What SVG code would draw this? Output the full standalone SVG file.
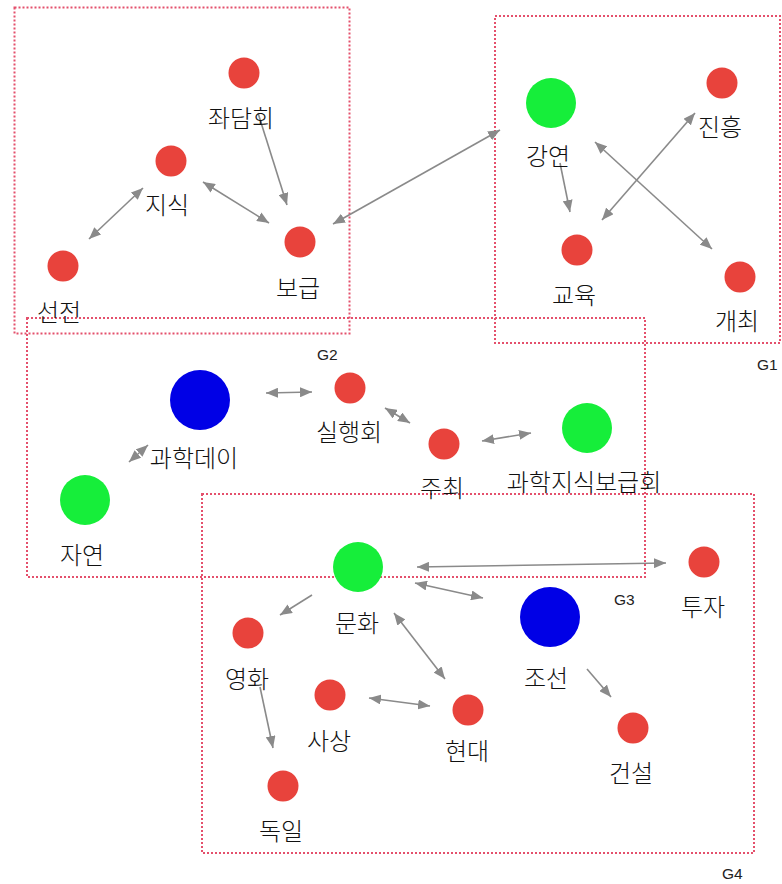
<svg xmlns="http://www.w3.org/2000/svg" width="782" height="884" viewBox="0 0 782 884">
<style>
.box{fill:none;stroke:#e4506c;stroke-width:2;stroke-dasharray:2 2}
.gl{font-family:"Liberation Sans",Arial,sans-serif;font-size:15.5px;fill:#222}
.e{stroke:#8a8a8a;stroke-width:1.6;fill:none}
.s{marker-end:url(#ah)}
.d{marker-start:url(#ah);marker-end:url(#ah)}
.r{fill:#e8433c}
.g{fill:#16ee3a}
.b{fill:#0000e6}
.t{font-family:"Noto Sans CJK KR","Noto Sans CJK SC",sans-serif;font-size:24px;font-weight:300;fill:#111;text-anchor:middle}
</style>
<defs>
<marker id="ah" viewBox="0 0 12 10" refX="12" refY="5" markerWidth="12" markerHeight="10" markerUnits="userSpaceOnUse" orient="auto-start-reverse">
<path d="M0,0 L12,5 L0,10 Z" fill="#8a8a8a"/>
</marker>
</defs>
<rect width="782" height="884" fill="#fff"/>
<g id="groups">
<g id="G2"><rect class="box" x="14.5" y="7.5" width="335" height="326"/><text class="gl" x="317" y="360">G2</text></g>
<g id="G1"><rect class="box" x="495" y="16" width="285" height="327"/><text class="gl" x="757" y="370">G1</text></g>
<g id="G3"><rect class="box" x="27" y="318" width="618" height="259"/><text class="gl" x="614" y="605">G3</text></g>
<g id="G4"><rect class="box" x="202" y="494" width="552" height="359"/><text class="gl" x="722" y="879">G4</text></g>
</g>
<g id="connectors">
<line class="e s" x1="258" y1="113" x2="287" y2="205"/>
<line class="e d" x1="143" y1="188" x2="89" y2="239"/>
<line class="e d" x1="203" y1="182" x2="269" y2="223"/>
<line class="e d" x1="333" y1="224" x2="500" y2="130"/>
<line class="e s" x1="560" y1="163" x2="570" y2="212"/>
<line class="e d" x1="695" y1="113" x2="602" y2="220"/>
<line class="e d" x1="595" y1="142" x2="712" y2="249"/>
<line class="e d" x1="266" y1="393" x2="312" y2="392"/>
<line class="e d" x1="385" y1="408" x2="410" y2="423"/>
<line class="e d" x1="148" y1="445" x2="129" y2="462"/>
<line class="e d" x1="482" y1="441" x2="531" y2="433"/>
<line class="e d" x1="417" y1="567" x2="666" y2="563"/>
<line class="e d" x1="415" y1="583" x2="483" y2="598"/>
<line class="e s" x1="312" y1="595" x2="280" y2="615"/>
<line class="e d" x1="394" y1="613" x2="445" y2="679"/>
<line class="e d" x1="369" y1="698" x2="430" y2="706"/>
<line class="e s" x1="260" y1="687" x2="273" y2="748"/>
<line class="e s" x1="587" y1="669" x2="611" y2="697"/>
</g>
<g id="n-jwadamhoe"><circle class="r" cx="244" cy="73" r="15.5"/><text class="t" x="241" y="127">좌담회</text></g>
<g id="n-jisik"><circle class="r" cx="171" cy="161" r="15.5"/><text class="t" x="167" y="214">지식</text></g>
<g id="n-seonjeon"><circle class="r" cx="63" cy="266" r="15.5"/><text class="t" x="59" y="321">선전</text></g>
<g id="n-bogeup"><circle class="r" cx="300" cy="242" r="15.5"/><text class="t" x="298" y="297">보급</text></g>
<g id="n-gangyeon"><circle class="g" cx="551" cy="103" r="25"/><text class="t" x="548" y="165">강연</text></g>
<g id="n-jinheung"><circle class="r" cx="722" cy="83" r="15.5"/><text class="t" x="720" y="136">진흥</text></g>
<g id="n-gyoyuk"><circle class="r" cx="577" cy="250" r="15.5"/><text class="t" x="574" y="304">교육</text></g>
<g id="n-gaechoe"><circle class="r" cx="740" cy="277" r="15.5"/><text class="t" x="737" y="330">개최</text></g>
<g id="n-gwahakdei"><circle class="b" cx="200" cy="400" r="30"/><text class="t" x="194" y="467">과학데이</text></g>
<g id="n-silhaenghoe"><circle class="r" cx="350" cy="388" r="15.5"/><text class="t" x="349" y="441">실행회</text></g>
<g id="n-jayeon"><circle class="g" cx="85" cy="500" r="25"/><text class="t" x="82" y="564">자연</text></g>
<g id="n-juchoe"><circle class="r" cx="444" cy="444" r="15.5"/><text class="t" x="442" y="497">주최</text></g>
<g id="n-gwahakjisikbogeuphoe"><circle class="g" cx="587" cy="428" r="25"/><text class="t" x="584" y="491">과학지식보급회</text></g>
<g id="n-munhwa"><circle class="g" cx="358" cy="567" r="25"/><text class="t" x="357" y="632">문화</text></g>
<g id="n-yeonghwa"><circle class="r" cx="248" cy="633" r="15.5"/><text class="t" x="247" y="688">영화</text></g>
<g id="n-sasang"><circle class="r" cx="330" cy="695" r="15.5"/><text class="t" x="329" y="750">사상</text></g>
<g id="n-hyeondae"><circle class="r" cx="468" cy="710" r="15.5"/><text class="t" x="467" y="760">현대</text></g>
<g id="n-dogil"><circle class="r" cx="283" cy="786" r="15.5"/><text class="t" x="281" y="840">독일</text></g>
<g id="n-joseon"><circle class="b" cx="550" cy="617" r="30"/><text class="t" x="546" y="687">조선</text></g>
<g id="n-tuja"><circle class="r" cx="704" cy="562" r="15.5"/><text class="t" x="703" y="616">투자</text></g>
<g id="n-geonseol"><circle class="r" cx="633" cy="728" r="15.5"/><text class="t" x="631" y="782">건설</text></g>
</svg>
